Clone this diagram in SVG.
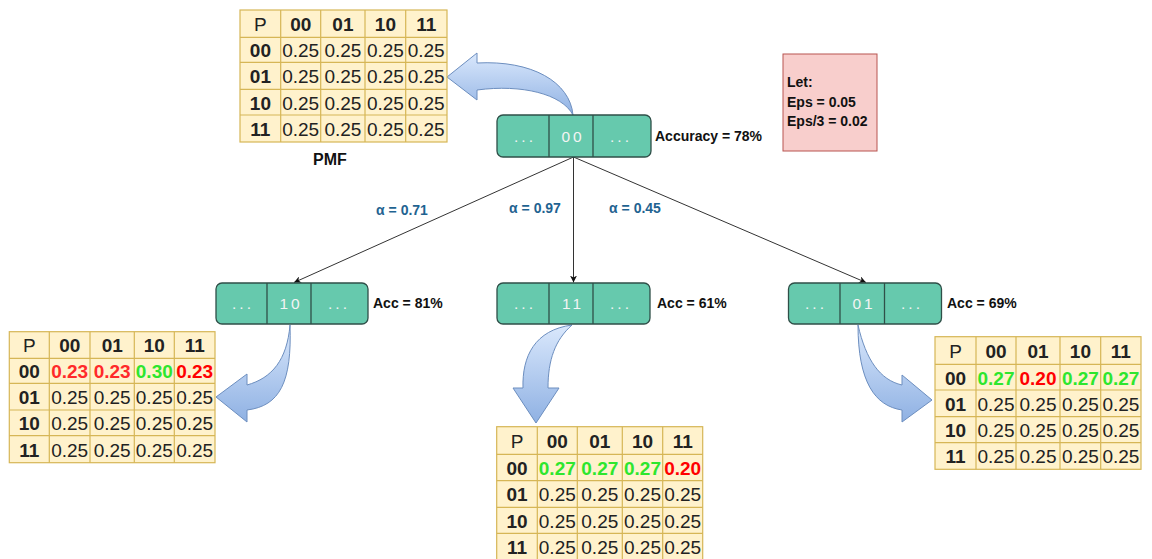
<svg xmlns="http://www.w3.org/2000/svg" width="1152" height="559" viewBox="0 0 1152 559">
<defs>
<style>
.bg{fill:#ffffff}
.tbl{fill:#fff2cc;stroke:#d6b656;stroke-width:1.2}
.gl{stroke:#d6b656;stroke-width:1.2}
.t{font-family:"Liberation Sans",Arial,sans-serif;font-size:19px;fill:#222;text-anchor:middle}
.b{font-weight:bold}
.r{font-weight:bold;fill:#ff2a2a}
.g{font-weight:bold;fill:#2ee62e}
.node{fill:#66c9ad;stroke:#2f4f48;stroke-width:1.3}
.div{stroke:#2f4f48;stroke-width:1.3}
.nt{font-family:"Liberation Sans",Arial,sans-serif;font-size:15.5px;fill:#f4f4f4;text-anchor:middle;letter-spacing:3px}
.lab{font-family:"Liberation Sans",Arial,sans-serif;font-size:14px;font-weight:bold;fill:#111}
.alpha{font-family:"Liberation Sans",Arial,sans-serif;font-size:14px;font-weight:bold;fill:#1f6391;text-anchor:middle}
.edge{stroke:#333;stroke-width:1;fill:none;marker-end:url(#ah)}
.ba{fill:url(#bg1);stroke:#6c8ebf;stroke-width:1}
</style>
<marker id="ah" viewBox="0 0 10 10" refX="10" refY="5" markerWidth="7" markerHeight="7" orient="auto" markerUnits="userSpaceOnUse">
<path d="M0,0 L10,5 L0,10 L3,5 Z" fill="#111"/>
</marker>
<linearGradient id="bg1" x1="0" y1="0" x2="0" y2="1">
<stop offset="0" stop-color="#dae8fc"/>
<stop offset="1" stop-color="#8fb1e3"/>
</linearGradient>
</defs>
<rect class="bg" x="0" y="0" width="1152" height="559"/>

<g id="connectors">
<line class="edge" x1="573.5" y1="157" x2="294" y2="282.5"/>
<line class="edge" x1="573.5" y1="157" x2="573.5" y2="282.5"/>
<line class="edge" x1="573.5" y1="157" x2="866" y2="282.5"/>
<text class="alpha" x="402" y="215">α = 0.71</text>
<text class="alpha" x="535" y="213">α = 0.97</text>
<text class="alpha" x="635" y="213">α = 0.45</text>
</g>

<g id="block-arrows">
<path id="arrow-top" class="ba" d="M573,115 C570,82 532,60 477,63 L477,53 L447,77 L477,100 L477,90 C522,84 562,94 573,115 Z"/>
<path id="arrow-left" class="ba" d="M290,325 C292,382 280,406 247,410 L247,422 L216,397 L247,374 L247,385 C272,378 287,360 290,325 Z"/>
<path id="arrow-mid" class="ba" d="M572,325 C535,330 522,356 523,388 L513,388 L536,423 L559,388 L548,388 C548,360 555,340 572,325 Z"/>
<path id="arrow-right" class="ba" d="M858,325 C858,382 875,406 902,410 L902,422 L932,400 L902,375 L902,385 C880,380 866,360 858,325 Z"/>
</g>

<g id="node-root">
<rect class="node" x="497" y="115" width="154" height="42" rx="6"/>
<line class="div" x1="549" y1="115" x2="549" y2="157"/>
<line class="div" x1="593" y1="115" x2="593" y2="157"/>
<text class="nt" x="525" y="141.5">...</text>
<text class="nt" x="573" y="141.5">00</text>
<text class="nt" x="621" y="141.5">...</text>
<text class="lab" x="655" y="141">Accuracy = 78%</text>
</g>

<g id="node-10">
<rect class="node" x="216" y="283" width="152" height="41" rx="6"/>
<line class="div" x1="267" y1="283" x2="267" y2="324"/>
<line class="div" x1="311" y1="283" x2="311" y2="324"/>
<text class="nt" x="243" y="309">...</text>
<text class="nt" x="291" y="309">10</text>
<text class="nt" x="339" y="309">...</text>
<text class="lab" x="373" y="308">Acc = 81%</text>
</g>

<g id="node-11">
<rect class="node" x="497" y="283" width="153" height="41" rx="6"/>
<line class="div" x1="549" y1="283" x2="549" y2="324"/>
<line class="div" x1="593" y1="283" x2="593" y2="324"/>
<text class="nt" x="525" y="309">...</text>
<text class="nt" x="573" y="309">11</text>
<text class="nt" x="621" y="309">...</text>
<text class="lab" x="657" y="308">Acc = 61%</text>
</g>

<g id="node-01">
<rect class="node" x="788.5" y="283" width="153" height="41" rx="6"/>
<line class="div" x1="840" y1="283" x2="840" y2="324"/>
<line class="div" x1="884.5" y1="283" x2="884.5" y2="324"/>
<text class="nt" x="816" y="309">...</text>
<text class="nt" x="864" y="309">01</text>
<text class="nt" x="912" y="309">...</text>
<text class="lab" x="947" y="308">Acc = 69%</text>
</g>

<g id="let-box">
<rect x="783" y="54" width="94" height="97" fill="#f8cecc" stroke="#b85450" stroke-width="1"/>
<text class="lab" x="787" y="87">Let:</text>
<text class="lab" x="787" y="107">Eps = 0.05</text>
<text class="lab" x="787" y="126">Eps/3 = 0.02</text>
</g>

<g id="table-pmf">
<rect class="tbl" x="240" y="10" width="207" height="132"/>
<path class="gl" d="M280.7,10V142 M320.7,10V142 M365,10V142 M405.7,10V142 M240,37.3H447 M240,62.3H447 M240,89.3H447 M240,115H447"/>
<text class="t" x="260.4" y="30.8">P</text>
<text class="t b" x="300.7" y="30.8">00</text>
<text class="t b" x="342.9" y="30.8">01</text>
<text class="t b" x="385.4" y="30.8">10</text>
<text class="t b" x="426.2" y="30.8">11</text>
<text class="t b" x="260.4" y="57.1">00</text>
<text class="t" x="300.7" y="57.1">0.25</text><text class="t" x="342.9" y="57.1">0.25</text><text class="t" x="385.4" y="57.1">0.25</text><text class="t" x="426.2" y="57.1">0.25</text>
<text class="t b" x="260.4" y="83.1">01</text>
<text class="t" x="300.7" y="83.1">0.25</text><text class="t" x="342.9" y="83.1">0.25</text><text class="t" x="385.4" y="83.1">0.25</text><text class="t" x="426.2" y="83.1">0.25</text>
<text class="t b" x="260.4" y="109.5">10</text>
<text class="t" x="300.7" y="109.5">0.25</text><text class="t" x="342.9" y="109.5">0.25</text><text class="t" x="385.4" y="109.5">0.25</text><text class="t" x="426.2" y="109.5">0.25</text>
<text class="t b" x="260.4" y="135.7">11</text>
<text class="t" x="300.7" y="135.7">0.25</text><text class="t" x="342.9" y="135.7">0.25</text><text class="t" x="385.4" y="135.7">0.25</text><text class="t" x="426.2" y="135.7">0.25</text>
<text class="lab" x="330" y="165" style="font-size:16px;text-anchor:middle">PMF</text>
</g>

<g id="table-10">
<rect class="tbl" x="9.3" y="331.7" width="205.7" height="131"/>
<path class="gl" d="M49.3,331.7V462.7 M90,331.7V462.7 M134.3,331.7V462.7 M174.3,331.7V462.7 M9.3,358.3H215 M9.3,383.3H215 M9.3,410H215 M9.3,435.7H215"/>
<text class="t" x="29.3" y="352.3">P</text>
<text class="t b" x="69.7" y="352.3">00</text>
<text class="t b" x="112.2" y="352.3">01</text>
<text class="t b" x="154.3" y="352.3">10</text>
<text class="t b" x="194.7" y="352.3">11</text>
<text class="t b" x="29.3" y="378.1">00</text>
<text class="t r" x="69.7" y="378.1">0.23</text><text class="t r" x="112.2" y="378.1">0.23</text><text class="t g" x="154.3" y="378.1">0.30</text><text class="t r" x="194.7" y="378.1" style="fill:#ff0000">0.23</text>
<text class="t b" x="29.3" y="404">01</text>
<text class="t" x="69.7" y="404">0.25</text><text class="t" x="112.2" y="404">0.25</text><text class="t" x="154.3" y="404">0.25</text><text class="t" x="194.7" y="404">0.25</text>
<text class="t b" x="29.3" y="430.2">10</text>
<text class="t" x="69.7" y="430.2">0.25</text><text class="t" x="112.2" y="430.2">0.25</text><text class="t" x="154.3" y="430.2">0.25</text><text class="t" x="194.7" y="430.2">0.25</text>
<text class="t b" x="29.3" y="456.5">11</text>
<text class="t" x="69.7" y="456.5">0.25</text><text class="t" x="112.2" y="456.5">0.25</text><text class="t" x="154.3" y="456.5">0.25</text><text class="t" x="194.7" y="456.5">0.25</text>
</g>

<g id="table-11">
<rect class="tbl" x="496.7" y="426.7" width="206" height="133.3"/>
<path class="gl" d="M537.3,426.7V560 M577.3,426.7V560 M622.3,426.7V560 M662.7,426.7V560 M496.7,454.3H702.7 M496.7,480.7H702.7 M496.7,507.3H702.7 M496.7,533.3H702.7"/>
<text class="t" x="517" y="447.8">P</text>
<text class="t b" x="557.3" y="447.8">00</text>
<text class="t b" x="599.8" y="447.8">01</text>
<text class="t b" x="642.5" y="447.8">10</text>
<text class="t b" x="682.7" y="447.8">11</text>
<text class="t b" x="517" y="474.8">00</text>
<text class="t g" x="557.3" y="474.8">0.27</text><text class="t g" x="599.8" y="474.8">0.27</text><text class="t g" x="642.5" y="474.8">0.27</text><text class="t r" x="682.7" y="474.8" style="fill:#ff0000">0.20</text>
<text class="t b" x="517" y="501.3">01</text>
<text class="t" x="557.3" y="501.3">0.25</text><text class="t" x="599.8" y="501.3">0.25</text><text class="t" x="642.5" y="501.3">0.25</text><text class="t" x="682.7" y="501.3">0.25</text>
<text class="t b" x="517" y="527.6">10</text>
<text class="t" x="557.3" y="527.6">0.25</text><text class="t" x="599.8" y="527.6">0.25</text><text class="t" x="642.5" y="527.6">0.25</text><text class="t" x="682.7" y="527.6">0.25</text>
<text class="t b" x="517" y="554">11</text>
<text class="t" x="557.3" y="554">0.25</text><text class="t" x="599.8" y="554">0.25</text><text class="t" x="642.5" y="554">0.25</text><text class="t" x="682.7" y="554">0.25</text>
</g>

<g id="table-01">
<rect class="tbl" x="935" y="336.7" width="206" height="132.6"/>
<path class="gl" d="M976,336.7V469.3 M1016,336.7V469.3 M1060,336.7V469.3 M1100.7,336.7V469.3 M935,364.3H1141 M935,390H1141 M935,416.7H1141 M935,442.7H1141"/>
<text class="t" x="955.5" y="357.8">P</text>
<text class="t b" x="996" y="357.8">00</text>
<text class="t b" x="1038" y="357.8">01</text>
<text class="t b" x="1080.4" y="357.8">10</text>
<text class="t b" x="1120.9" y="357.8">11</text>
<text class="t b" x="955.5" y="384.5">00</text>
<text class="t g" x="996" y="384.5">0.27</text><text class="t r" x="1038" y="384.5" style="fill:#ff0000">0.20</text><text class="t g" x="1080.4" y="384.5">0.27</text><text class="t g" x="1120.9" y="384.5">0.27</text>
<text class="t b" x="955.5" y="410.7">01</text>
<text class="t" x="996" y="410.7">0.25</text><text class="t" x="1038" y="410.7">0.25</text><text class="t" x="1080.4" y="410.7">0.25</text><text class="t" x="1120.9" y="410.7">0.25</text>
<text class="t b" x="955.5" y="437">10</text>
<text class="t" x="996" y="437">0.25</text><text class="t" x="1038" y="437">0.25</text><text class="t" x="1080.4" y="437">0.25</text><text class="t" x="1120.9" y="437">0.25</text>
<text class="t b" x="955.5" y="463.3">11</text>
<text class="t" x="996" y="463.3">0.25</text><text class="t" x="1038" y="463.3">0.25</text><text class="t" x="1080.4" y="463.3">0.25</text><text class="t" x="1120.9" y="463.3">0.25</text>
</g>
</svg>
